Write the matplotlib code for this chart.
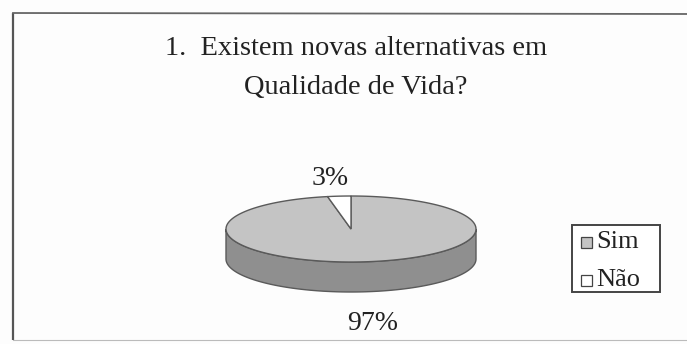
import numpy as np
import matplotlib
matplotlib.use("Agg")
import matplotlib.pyplot as plt
from matplotlib.patches import Polygon, Rectangle

# ---- data ----
labels = ["Sim", "Não"]
values = [97, 3]
pct_labels = ["97%", "3%"]
title = "1.  Existem novas alternativas em\nQualidade de Vida?"

top_colors = ["#c4c4c4", "#ffffff"]
side_colors = ["#8f8f8f", "#e8e8e8"]
edge = "#5a5a5a"

W, H = 687, 344
fig = plt.figure(figsize=(W / 100, H / 100), dpi=100)
fig.patch.set_facecolor("#fdfdfd")
ax = fig.add_axes([0, 0, 1, 1])
ax.set_xlim(0, W)
ax.set_ylim(H, 0)
ax.axis("off")

serif = ["Liberation Serif", "DejaVu Serif"]

# frame
ax.plot([13, 13], [13, 340], color="#555555", lw=1.6, solid_capstyle="butt")
ax.plot([13, 687], [13, 14], color="#666666", lw=1.3)
ax.plot([13, 687], [340, 340], color="#bbbbbb", lw=0.8)

# title
ax.text(356, 68, title, ha="center", va="center", fontsize=20.5,
        family=serif, color="#222222", linespacing=1.72)

# pie geometry (pixel space)
cx, cy, rx, ry, depth = 351, 229, 125, 33, 30

def pt(theta_deg, dy=0.0):
    t = np.deg2rad(theta_deg)
    return cx + rx * np.cos(t), cy - ry * np.sin(t) + dy

total = float(sum(values))
start = 90.0
angles = []
for v in values:
    sweep = 360.0 * v / total
    angles.append((start - sweep, start))  # clockwise
    start -= sweep

def side_poly(a0, a1, color):
    lo, hi = max(a0, 180), min(a1, 360)
    if hi <= lo:
        return
    th = np.linspace(lo, hi, 120)
    top = [pt(t) for t in th]
    bot = [pt(t, depth) for t in th[::-1]]
    ax.add_patch(Polygon(top + bot, closed=True, fc=color, ec=edge, lw=1.0, zorder=2))

for (a0, a1), sc in zip(angles, side_colors):
    for shift in (-360, 0, 360):
        side_poly(a0 + shift, a1 + shift, sc)

# top faces
for (a0, a1), tc in zip(angles, top_colors):
    th = np.linspace(a0, a1, 200)
    poly = [(cx, cy)] + [pt(t) for t in th]
    ax.add_patch(Polygon(poly, closed=True, fc=tc, ec=edge, lw=1.0, zorder=3))

# percentage labels
for (a0, a1), lab in zip(angles, pct_labels):
    mid = np.deg2rad((a0 + a1) / 2)
    s = np.sin(mid)
    lx = cx + 1.8 * rx * np.cos(mid)
    if s >= 0:
        ly = cy - 1.55 * ry * s
    else:
        ly = cy - 1.6 * ry * s + depth + 12
    ax.text(lx, ly, lab, ha="center", va="center", fontsize=20,
            family=serif, color="#222222")

# legend
ax.add_patch(Rectangle((572, 225), 88, 67, fc="white", ec="#444444", lw=1.4, zorder=4))
for i, (lab, tc) in enumerate(zip(labels, top_colors)):
    y = 242 + i * 38
    ax.add_patch(Rectangle((581, y - 5.5), 11, 11, fc=tc, ec="#444444", lw=0.9, zorder=5))
    ax.text(596, y, lab, ha="left", va="center", fontsize=19, family=serif,
            color="#222222", zorder=5)

fig.savefig("out.png", dpi=100, facecolor=fig.get_facecolor())
